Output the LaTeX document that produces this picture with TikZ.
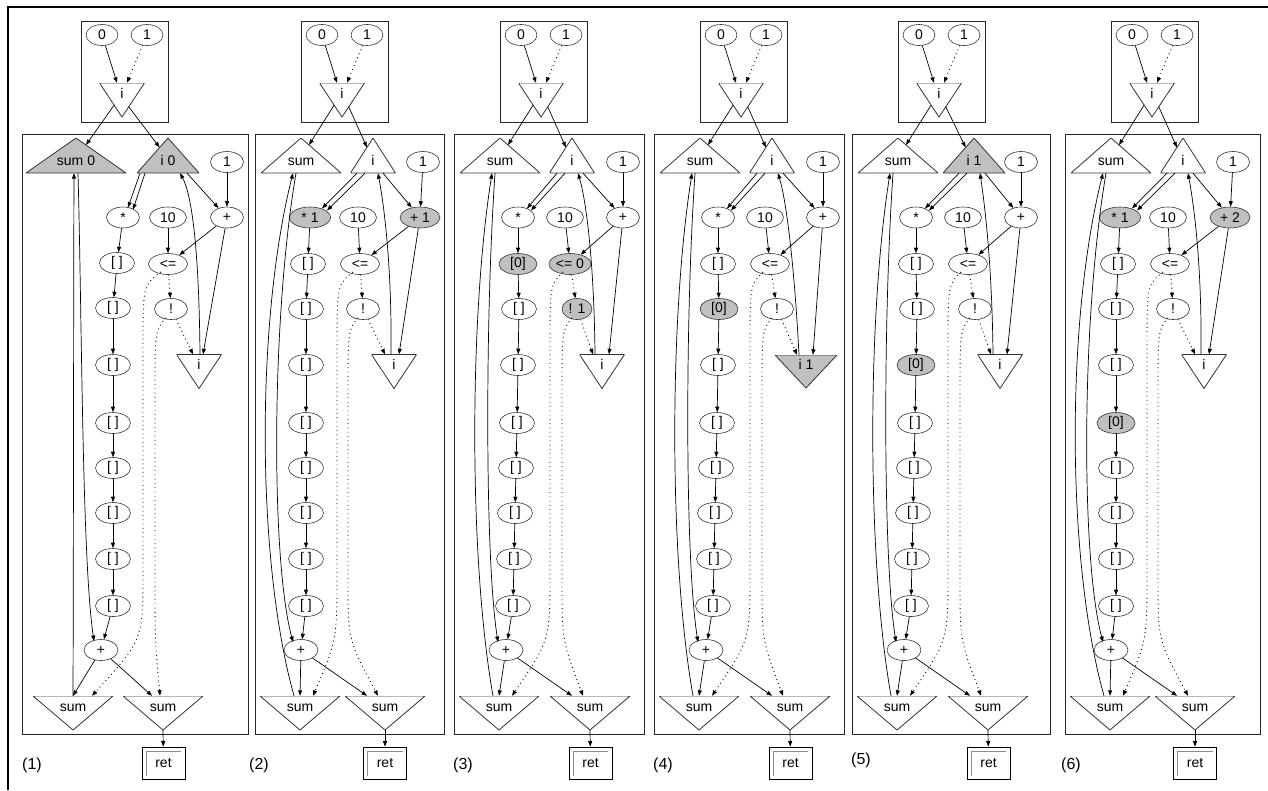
\documentclass[tikz,border=0pt]{standalone}
\usepackage{fontspec}
\setmainfont{Liberation Sans}
\usetikzlibrary{shapes.geometric,arrows.meta,calc}
\definecolor{hlgray}{RGB}{192,192,192}
\tikzset{
  lbl/.style={font=\fontsize{14}{16}\selectfont},
  ell/.style={ellipse, draw=black!80, line width=0.6pt, minimum width=#1, minimum height=21pt, inner sep=0pt, lbl},
  ell/.default=34pt,
  hl/.style={fill=hlgray},
  tri/.style={rectangle, fill=white, inner sep=0pt, minimum width=#1, minimum height=35pt, lbl},
  triline/.style={draw=black!80, line width=0.8pt},
  tup/.style={tri=#1, text height=19pt, text depth=0pt, path picture={\draw[triline] (path picture bounding box.south west) -- (path picture bounding box.south east) -- (path picture bounding box.north) -- cycle;}},
  tuph/.style={tri=#1, text height=19pt, text depth=0pt, path picture={\draw[triline,fill=hlgray] (path picture bounding box.south west) -- (path picture bounding box.south east) -- (path picture bounding box.north) -- cycle;}},
  tdn/.style={tri=#1, text height=0pt, text depth=4pt, path picture={\draw[triline] (path picture bounding box.north west) -- (path picture bounding box.north east) -- (path picture bounding box.south) -- cycle;}},
  tdnh/.style={tri=#1, text height=0pt, text depth=4pt, path picture={\draw[triline,fill=hlgray] (path picture bounding box.north west) -- (path picture bounding box.north east) -- (path picture bounding box.south) -- cycle;}},
  boxst/.style={rectangle, draw=black!85, line width=0.9pt, inner sep=0pt},
  arr/.style={-{Triangle[length=5.5pt,width=4pt]}, line width=0.7pt},
  dots/.style={dash pattern=on 0.9pt off 3.4pt, line width=0.9pt},
  plab/.style={font=\fontsize{16}{18}\selectfont, anchor=west, inner sep=0pt},
  retst/.style={rectangle, draw=black, line width=0.8pt, minimum width=43pt, minimum height=32pt, inner sep=0pt, lbl,
    path picture={\draw[black!45,line width=0.6pt] ($(path picture bounding box.south west)+(4,-3)$) -- ($(path picture bounding box.north west)+(4,4)$) -- ($(path picture bounding box.north east)+(-4,4)$);}},
}
\newcommand{\setA}{%
\def\xtop{87}\def\bw{190}\def\xsT{46}\def\xiT{118}\def\xone{169}\def\xmul{64}\def\xten{111}\def\xadd{169}\def\xle{116}\def\xnot{123}\def\xie{148}\def\xaB{52}\def\xsL{45}\def\xsR{136}\def\xret{136.5}%
\def\chainlist{1/64/264,2/65/309,3/64/365,4/63/423,5/62/468,6/61/513,7/60/559,8/59/606}%
\def\mdA{-15}\def\mdB{-7}\def\meAx{9}\def\meAy{-9}\def\meBx{13}\def\meBy{-7}\def\iaoff{11}%
\def\ieoff{-7}\def\bxa{140}\def\bya{260}\def\bxb{132}\def\byb{200}\def\iToff{6}\def\ieadd{7}\def\ienot{-9}%
\def\sToff{-5}\def\sxa{31}\def\aBx{-8}\def\aBy{-8}\def\sLoff{-6}\def\lxa{15}\def\sTin{-8}\def\sRoff{-18}%
\def\dxa{96}\def\dxb{108}\def\dLoff{13}\def\dRoff{-7}\def\labx{-1}\def\laby{765}%
\def\LsT{sum}\def\LiT{i}\def\Lmul{*}\def\Ladd{+}\def\Lle{<=}\def\Lnot{!}\def\Lie{i}\def\zrow{0}%
\tikzset{sTst/.style={tup=80pt},iTst/.style={tup=45pt},mulst/.style={ell=33pt},addst/.style={ell=33pt},lest/.style={ell=39pt},notst/.style={ell=33pt},iest/.style={tdn=45pt,minimum height=34pt}}%
}
\newcommand{\setB}{%
\def\xone{168}\def\xmul{55}\def\xten{103}\def\xadd{165}\def\xle{105}\def\xnot{108}\def\xie{139}\def\xaB{46}\def\xsL{45}\def\xsR{130}\def\xret{130}%
\def\chainlist{1/53/264,2/51/309,3/51/365,4/51/423,5/51/468,6/51/513,7/51/559,8/51/606}%
\def\mdA{-16}\def\mdB{-8}\def\meAx{12}\def\meAy{-9}\def\meBx{17}\def\meBy{-7}\def\iaoff{10}%
\def\ieoff{-3}\def\bxa{137}\def\bxb{128}\def\iToff{5}\def\ieadd{5}%
\def\sxa{16}\def\lxa{1}\def\dxa{82}\def\dxb{93}%
}
\newcommand{\drawpanel}[3]{%
\def\X{#2}%
\node[boxst, minimum width=87pt, minimum height=101pt] (#1tb) at (\X+\xtop+2.5,71.5) {};
\node[boxst, minimum width=\bw pt, minimum height=600pt] (#1mb) at (\X+\bw/2,434) {};
\node[plab] (#1lab) at (\X+\labx,\laby) {(#3)};
\node[ell=32pt] (#1t0) at (\X+\xtop-20,35) {0};
\node[ell=32pt] (#1t1) at (\X+\xtop+25,35) {1};
\node[tdn=45pt, minimum height=34pt] (#1ti) at (\X+\xtop,100) {i};
\node[sTst] (#1sT) at (\X+\xsT,155.5) {\LsT};
\node[iTst] (#1iT) at (\X+\xiT,155.5) {\LiT};
\node[ell=33pt] (#1one) at (\X+\xone,162) {1};
\node[mulst] (#1mul) at (\X+\xmul,217.5) {\Lmul};
\node[ell=37pt] (#1ten) at (\X+\xten,217.5) {10};
\node[addst] (#1add) at (\X+\xadd,217.5) {\Ladd};
\node[lest] (#1le) at (\X+\xle,264) {\Lle};
\node[notst] (#1not) at (\X+\xnot,309) {\Lnot};
\node[iest] (#1ie) at (\X+\xie,371.5) {\Lie};
\foreach \r/\cxv/\cyv in \chainlist {%
  \ifnum\r=\zrow\relax
    \node[ell=38pt,hl] (#1c\r) at (\X+\cxv,\cyv) {[0]};
  \else
    \node[ell=35pt] (#1c\r) at (\X+\cxv,\cyv) {[ ]};
  \fi
}
\node[ell=34pt] (#1aB) at (\X+\xaB,650) {+};
\node[tdn=80pt, minimum height=34pt] (#1sL) at (\X+\xsL,713) {sum};
\node[tdn=80pt, minimum height=34pt] (#1sR) at (\X+\xsR,713) {sum};
\node[retst] (#1ret) at (\X+\xret,763) {ret};
% edges
\draw[arr] (#1t0) -- ($(#1ti.north)+(-5,0)$);
\draw[arr,dots] (#1t1) -- ($(#1ti.north)+(5,0)$);
\draw[arr] ($(#1ti.south)!0.35!(#1ti.north west)$) -- ($(#1sT.north)!0.2!(#1sT.south east)$);
\draw[arr] ($(#1ti.south)!0.3!(#1ti.north east)$) -- ($(#1iT.north)!0.27!(#1iT.south west)$);
\draw[arr] ($(#1iT.south)+(\mdA,0)$) -- ($(#1mul)+(\meAx,\meAy)$);
\draw[arr] ($(#1iT.south)+(\mdB,0)$) -- ($(#1mul)+(\meBx,\meBy)$);
\draw[arr] ($(#1iT.south)+(\iaoff,0)$) -- (#1add);
\draw[arr] (#1one) -- (#1add);
\draw[arr] ($(#1ie.north)+(\ieoff,0)$) .. controls (\X+\bxa,\bya) and (\X+\bxb,\byb) .. ($(#1iT.south)+(\iToff,0)$);
\draw[arr] (#1add) -- (#1le);
\draw[arr] (#1ten) -- (#1le);
\draw[arr] (#1add) -- ($(#1ie.north)+(\ieadd,0)$);
\draw[arr] (#1mul) -- (#1c1);
\foreach \r [count=\s from 2] in {1,...,7} {\draw[arr] (#1c\r) -- (#1c\s);}
\draw[arr] (#1c8) -- (#1aB);
\draw[arr,dots] (#1le) -- (#1not);
\draw[arr,dots] (#1not) -- ($(#1ie.north)+(\ienot,0)$);
\draw[arr] ($(#1sT.south)+(\sToff,0)$) .. controls (\X+\sxa,320) and (\X+\sxa,560) .. ($(#1aB)+(\aBx,\aBy)$);
\draw[arr] ($(#1sL.north)+(\sLoff,0)$) .. controls (\X+\lxa,560) and (\X+\lxa,320) .. ($(#1sT.south)+(\sTin,0)$);
\draw[arr] (#1aB) -- (#1sL.north);
\draw[arr] (#1aB) -- ($(#1sR.north)+(\sRoff,0)$);
\draw[arr,dots] ($(#1le)+(-7,8)$) .. controls (\X+\dxa,285) .. (\X+\dxa,350) -- (\X+\dxa,570) .. controls (\X+\dxa,640) .. ($(#1sL.north)+(\dLoff,0)$);
\draw[arr,dots] ($(#1not)+(-5,9)$) .. controls (\X+\dxb,330) .. (\X+\dxb,400) -- (\X+\dxb,580) .. controls (\X+\dxb,640) .. ($(#1sR.north)+(\dRoff,0)$);
\draw[arr] (#1sR.south) -- (#1ret);
}
\begin{document}
\begin{tikzpicture}[x=1pt,y=-1pt]
\useasboundingbox (0,0) rectangle (1268,790);
\draw[line width=2pt] (8,790) -- (8,7) -- (1268,7);
% panel 1
\setA
\def\xtop{100}\def\bw{226}\def\xsT{54}\def\xiT{146}\def\xone{205}\def\xmul{101}\def\xten{146}\def\xadd{205}\def\xle{146}\def\xnot{149}\def\xie{177}\def\xaB{79}\def\xsL{51}\def\xsR{141}\def\xret{141.5}%
\def\chainlist{1/95/263,2/91/308,3/91/365,4/91/423,5/91/468,6/91/513,7/91/559,8/91/606}%
\def\mdA{-28}\def\mdB{-23}\def\meAx{5}\def\meAy{-10}\def\meBx{10}\def\meBy{-8}\def\iaoff{19}%
\def\ieoff{1}\def\bxa{177}\def\bya{250}\def\bxb{170}\def\byb{195}\def\iToff{12}\def\ieadd{4}\def\ienot{-6}%
\def\sToff{2}\def\sxa{60}\def\aBx{-7}\def\aBy{-9}\def\sLoff{0}\def\lxa{51.5}\def\sTin{-2}\def\sRoff{-11}%
\def\dxa{121}\def\dxb{133}\def\dLoff{19}\def\dRoff{-3}\def\labx{0}%
\def\LsT{sum 0}\def\LiT{i 0}%
\tikzset{sTst/.style={tuph=100pt},iTst/.style={tuph=62pt}}%
\drawpanel{pa}{22}{1}
% panel 2
\setA\setB
\def\Lmul{* 1}\def\Ladd{+ 1}\def\bw{189}\def\labx{-6}%
\tikzset{mulst/.style={ell=41pt,hl},addst/.style={ell=40pt,hl}}%
\drawpanel{pb}{255}{2}
% panel 3
\setA
\def\Lle{<= 0}\def\Lnot{! 1}\def\zrow{1}%
\tikzset{lest/.style={ell=42pt,hl},notst/.style={ell=30pt,hl}}%
\drawpanel{pc}{454}{3}
% panel 4
\setA
\def\Lie{i 1}\def\zrow{2}\def\xie{152}%
\tikzset{iest/.style={tdnh=62pt,minimum height=33pt}}%
\drawpanel{pd}{654}{4}
% panel 5
\setA
\def\LiT{i 1}\def\zrow{3}\def\xiT{122}\def\bw{198}\def\laby{760}%
\tikzset{iTst/.style={tuph=62pt}}%
\drawpanel{pe}{852}{5}
% panel 6
\setA\setB
\def\Lmul{* 1}\def\Ladd{+ 2}\def\zrow{4}\def\bw{195}\def\labx{-4}%
\tikzset{mulst/.style={ell=41pt,hl},addst/.style={ell=40pt,hl}}%
\drawpanel{pf}{1065}{6}
\end{tikzpicture}
\end{document}
